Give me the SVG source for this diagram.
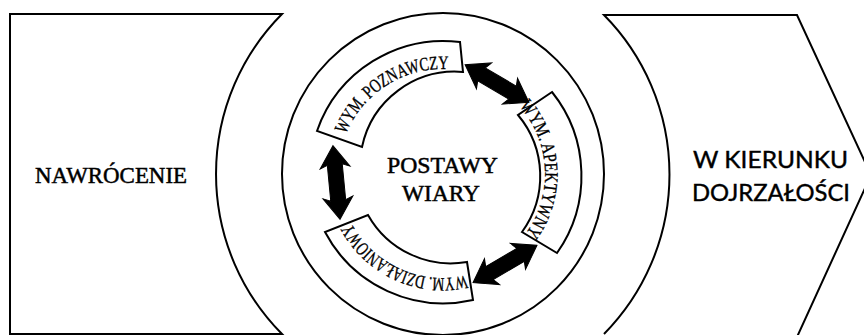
<svg xmlns="http://www.w3.org/2000/svg" xmlns:xlink="http://www.w3.org/1999/xlink" width="864" height="335" viewBox="0 0 864 335">
<style>
.ln{fill:none;stroke:#000;stroke-width:2;stroke-linejoin:miter}
.bx{fill:#fff;stroke:#000;stroke-width:2;stroke-linejoin:miter}
.big{font-family:"Liberation Serif",serif;font-size:24px;fill:#000;stroke:#000;stroke-width:0.5}
.sans{font-family:Lato,"Open Sans",sans-serif;font-size:23px;fill:#000;stroke:#000;stroke-width:0.4}
.lab{font-family:"Liberation Serif",serif;font-size:19px;fill:#000;stroke:#000;stroke-width:0.35}
.arr{fill:#000;stroke:#000;stroke-width:1}
</style>
<defs>
<polygon id="dbl" points="37,0 15,-15 18,-7.5 -18,-7.5 -15,-15 -37,0 -15,15 -18,7.5 18,7.5 15,15"/>
<path id="tp-poz" d="M338.90,160.29 A105,105 0 0 1 474.57,73.86"/>
<path id="tp-ape" d="M504.39,92.54 A102,102 0 0 1 512.56,248.60"/>
<path id="tp-dzi" d="M487.77,267.87 A104,104 0 0 1 342.78,201.79"/>
</defs>
<rect width="864" height="335" fill="#fff"/>
<g id="nawrocenie">
<path class="ln" d="M10,14 H282 A227,227 0 0 0 282,334 H10 Z"/>
<text class="big" x="35" y="183" textLength="152" lengthAdjust="spacingAndGlyphs">NAWRÓCENIE</text>
</g>
<g id="dojrzalosc">
<path class="ln" d="M604,334 A227,227 0 0 0 604,15 H797 L871,175 L797,337"/>
<text class="sans" x="693" y="168" textLength="155" lengthAdjust="spacingAndGlyphs">W KIERUNKU</text>
<text class="sans" x="692" y="201" textLength="158" lengthAdjust="spacingAndGlyphs">DOJRZAŁOŚCI</text>
</g>
<g id="postawy-wiary">
<circle class="ln" cx="443" cy="174" r="161"/>
<text class="big" font-size="26" x="442.5" y="173" text-anchor="middle" textLength="111" lengthAdjust="spacingAndGlyphs">POSTAWY</text>
<text class="big" font-size="26" x="441" y="201" text-anchor="middle" textLength="78" lengthAdjust="spacingAndGlyphs">WIARY</text>
</g>
<g id="wym-poznawczy">
<path class="bx" d="M317,131 A134,134 0 0 1 460,42 L463,72 A95,95 0 0 0 362,147 Z"/>
<text class="lab"><textPath xlink:href="#tp-poz" href="#tp-poz" startOffset="50%" text-anchor="middle" textLength="130" lengthAdjust="spacingAndGlyphs">WYM. POZNAWCZY</textPath></text>
</g>
<g id="wym-apektywny">
<path class="bx" d="M552,92 A134,134 0 0 1 557,253 L522,232 A95,95 0 0 0 518,115 Z"/>
<text class="lab"><textPath xlink:href="#tp-ape" href="#tp-ape" startOffset="50%" text-anchor="middle" textLength="138" lengthAdjust="spacingAndGlyphs">WYM. APEKTYWNY</textPath></text>
</g>
<g id="wym-dzialaniowy">
<path class="bx" d="M473,300 A134,134 0 0 1 325,232 L368,215 A95,95 0 0 0 467,262 Z"/>
<text class="lab"><textPath xlink:href="#tp-dzi" href="#tp-dzi" startOffset="50%" text-anchor="middle" textLength="136" lengthAdjust="spacingAndGlyphs">WYM. DZIAŁANIOWY</textPath></text>
</g>
<g id="connectors">
<use href="#dbl" xlink:href="#dbl" class="arr" transform="translate(497,83.5) rotate(30.5)"/>
<use href="#dbl" xlink:href="#dbl" class="arr" transform="translate(336.5,182.5) rotate(84.5)"/>
<use href="#dbl" xlink:href="#dbl" class="arr" transform="translate(505,264) rotate(-30.3)"/>
</g>
</svg>
